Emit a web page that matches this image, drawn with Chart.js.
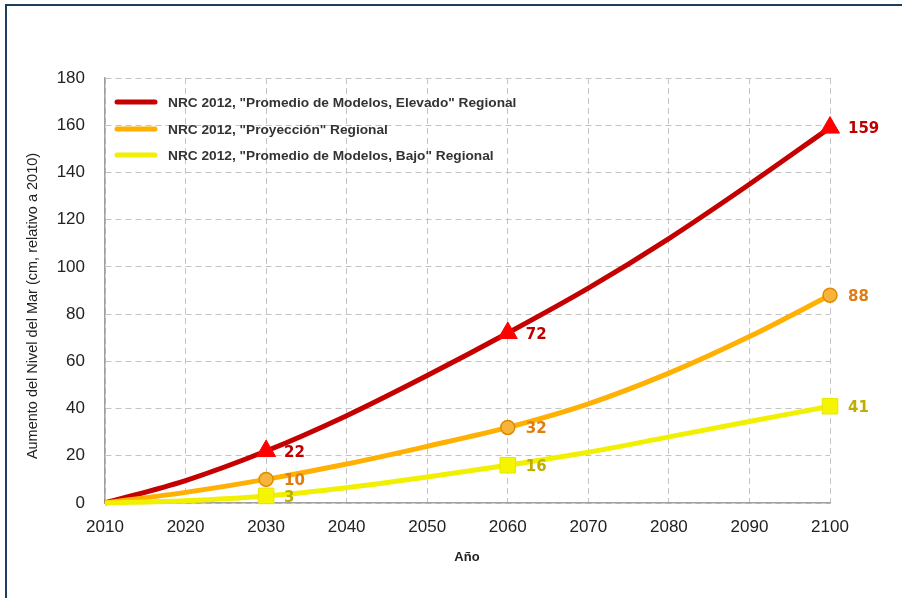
<!DOCTYPE html>
<html>
<head>
<meta charset="utf-8">
<script src="https://cdn.jsdelivr.net/npm/chart.js@4"></script>
<style>
    html, body { margin: 0; padding: 0; background: #fff; }
    #wrap { position: relative; width: 902px; height: 598px; }
    #frame { position: absolute; left: 5px; top: 4px; right: 0; bottom: 0; border-top: 2px solid #1f3d5c; border-left: 2px solid #1f3d5c; pointer-events: none; }
</style>
</head>
<body>
<div id="wrap">
    <canvas id="seaChart" width="902" height="598"></canvas>
    <div id="frame"></div>
</div>
<script>
const years = [2010, 2020, 2030, 2040, 2050, 2060, 2070, 2080, 2090, 2100];
const elevado = [0, 9.5, 22, 37, 54, 72, 91, 112, 135, 159];
const proyeccion = [0, 4.5, 10, 16.5, 24, 32, 42, 55, 70.5, 88];
const bajo = [0, 1, 3, 6.5, 11, 16, 21.5, 28, 34.5, 41];
const markedYears = [2030, 2060, 2100];
const seriesNames = [
    'NRC 2012, "Promedio de Modelos, Elevado" Regional',
    'NRC 2012, "Proyección" Regional',
    'NRC 2012, "Promedio de Modelos, Bajo" Regional'
];
const yTicks = [0, 20, 40, 60, 80, 100, 120, 140, 160, 180];

const lineColors = ['#c40000', '#ffb000', '#f0f000'];
const labelColors = ['#c00000', '#e07d12', '#bfae00'];

function toPoints(values) {
    return years.map((y, i) => ({ x: y, y: values[i] }));
}
function radii(r) {
    return years.map(y => markedYears.includes(y) ? r : 0);
}

// legend, value labels and axis titles drawn on the canvas
const extras = {
    id: 'extras',
    afterDatasetsDraw(chart) {
        const ctx = chart.ctx;
        ctx.save();
        // value labels next to the markers
        ctx.font = 'bold 15px "DejaVu Sans", sans-serif';
        ctx.textAlign = 'left';
        ctx.textBaseline = 'middle';
        chart.data.datasets.forEach((ds, di) => {
            const meta = chart.getDatasetMeta(di);
            ctx.fillStyle = ds.labelColor;
            years.forEach((yr, i) => {
                if (!markedYears.includes(yr)) return;
                const pt = meta.data[i];
                ctx.fillText(String(ds.data[i].y), pt.x + 18, pt.y + 2);
            });
        });

        // legend
        const legendY = [102, 129, 155];
        ctx.font = 'bold 13.7px "Liberation Sans", Arial, sans-serif';
        ctx.textBaseline = 'middle';
        seriesNames.forEach((name, i) => {
            ctx.strokeStyle = lineColors[i];
            ctx.lineWidth = 5;
            ctx.lineCap = 'round';
            ctx.beginPath();
            ctx.moveTo(117, legendY[i]);
            ctx.lineTo(155, legendY[i]);
            ctx.stroke();
            ctx.fillStyle = '#333';
            ctx.fillText(name, 168, legendY[i] + 1);
        });

        // axis titles
        ctx.fillStyle = '#222';
        ctx.font = 'bold 13px "Liberation Sans", Arial, sans-serif';
        ctx.textAlign = 'center';
        ctx.fillText('Año', 467, 557);
        ctx.translate(33, 306);
        ctx.rotate(-Math.PI / 2);
        ctx.font = '14.5px "Liberation Sans", Arial, sans-serif';
        ctx.fillText('Aumento del Nivel del Mar (cm, relativo a 2010)', 0, 0);
        ctx.restore();
    }
};

const ctx = document.getElementById('seaChart').getContext('2d');
new Chart(ctx, {
    type: 'line',
    data: {
        datasets: [{
            label: seriesNames[0],
            data: toPoints(elevado),
            borderColor: lineColors[0],
            borderWidth: 5,
            pointStyle: 'triangle',
            pointRadius: radii(11),
            pointBackgroundColor: '#ff0000',
            pointBorderColor: '#ff0000',
            pointBorderWidth: 1,
            labelColor: labelColors[0],
            cubicInterpolationMode: 'monotone',
            clip: false,
            order: 2
        }, {
            label: seriesNames[1],
            data: toPoints(proyeccion),
            borderColor: lineColors[1],
            borderWidth: 5,
            pointStyle: 'circle',
            pointRadius: radii(7),
            pointBackgroundColor: '#f7b43a',
            pointBorderColor: '#e08a00',
            pointBorderWidth: 1.5,
            labelColor: labelColors[1],
            cubicInterpolationMode: 'monotone',
            clip: false,
            order: 1
        }, {
            label: seriesNames[2],
            data: toPoints(bajo),
            borderColor: lineColors[2],
            borderWidth: 5,
            pointStyle: 'rect',
            pointRadius: radii(11),
            pointBackgroundColor: '#f5f500',
            pointBorderColor: '#e6e600',
            pointBorderWidth: 1,
            labelColor: labelColors[2],
            cubicInterpolationMode: 'monotone',
            clip: false,
            order: 0
        }]
    },
    options: {
        responsive: false,
        animation: false,
        events: [],
        layout: { padding: { left: 0, right: 72, top: 78, bottom: 0 } },
        plugins: {
            legend: { display: false },
            tooltip: { enabled: false }
        },
        scales: {
            x: {
                type: 'linear',
                min: 2010,
                max: 2100,
                afterFit: scale => { scale.height = 95; },
                afterBuildTicks: scale => { scale.ticks = years.map(v => ({ value: v })); },
                ticks: {
                    padding: 14,
                    color: '#222',
                    font: { family: '"Liberation Sans", sans-serif', size: 17 },
                    callback: v => String(v)
                },
                grid: { color: '#c4c4c4', drawTicks: false },
                border: { color: '#a0a0a0', width: 1.5, dash: [6, 4] }
            },
            y: {
                min: 0,
                max: 180,
                afterFit: scale => { scale.width = 105; },
                afterBuildTicks: scale => { scale.ticks = yTicks.map(v => ({ value: v })); },
                ticks: {
                    padding: 20,
                    color: '#222',
                    font: { family: '"Liberation Sans", sans-serif', size: 17 }
                },
                grid: { color: '#c4c4c4', drawTicks: false },
                border: { color: '#a0a0a0', width: 1.5, dash: [6, 4] }
            }
        }
    },
    plugins: [extras]
});
</script>
</body>
</html>
